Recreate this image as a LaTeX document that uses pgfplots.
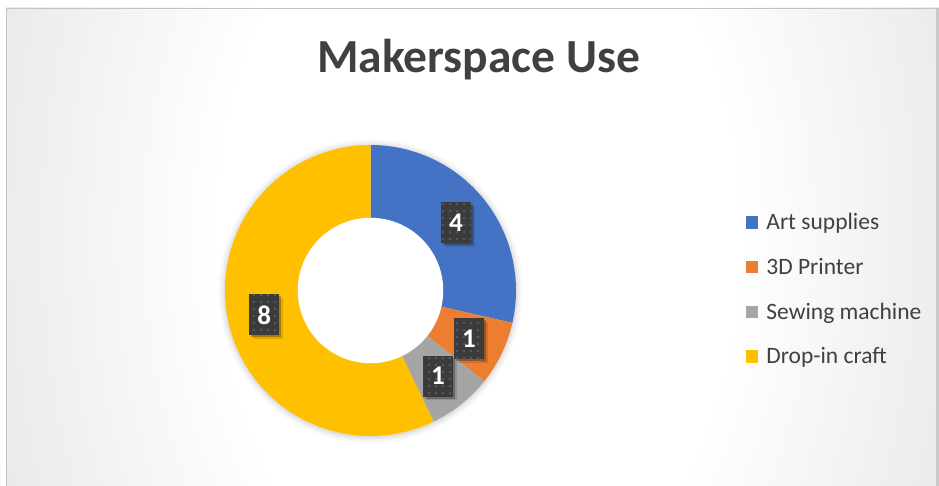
\documentclass[border=0pt]{standalone}
\usepackage{pgfplots}
\pgfplotsset{compat=1.18}
\usepackage{pgfplotstable}
\usepackage{fontspec}
\setmainfont{Carlito}
\usetikzlibrary{patterns,shadows}

\definecolor{cblue}{HTML}{4472C4}
\definecolor{corange}{HTML}{ED7D31}
\definecolor{cgray}{HTML}{A5A5A5}
\definecolor{cyellow}{HTML}{FFC000}
\definecolor{ctext}{HTML}{404040}
\definecolor{lblbg}{HTML}{3B3B3B}
\definecolor{lbldot}{HTML}{575757}

\pgfdeclareradialshading{bgshade}{\pgfpoint{0bp}{0bp}}{color(0bp)=(white); color(12bp)=(white); color(20bp)=(black!6); color(30bp)=(black!13); color(43bp)=(black!18); color(50bp)=(black!24)}
\pgfdeclareradialshading{holeshade}{\pgfpoint{0bp}{0bp}}{color(0bp)=(white); color(36bp)=(white); color(50bp)=(black!10)}
\pgfdeclarepatternformonly{exceldots}{\pgfpointorigin}{\pgfpoint{7pt}{7pt}}{\pgfpoint{7pt}{7pt}}{\pgfpathrectangle{\pgfpoint{1pt}{1pt}}{\pgfpoint{2.4pt}{2.4pt}}\pgfusepath{fill}}

\pgfplotstableread{
label value
Art 4
Printer 1
Sewing 1
Dropin 8
}\datatable

\begin{document}
\begin{tikzpicture}[
  lbl/.style={
    general shadow={shadow xshift=3.5pt, shadow yshift=-3.5pt, fill=black, opacity=0.12},
    general shadow={shadow xshift=2pt, shadow yshift=-2pt, fill=black, opacity=0.25},
    preaction={fill=lblbg}, pattern=exceldots, pattern color=lbldot,
    minimum width=30pt, minimum height=41pt, inner sep=0pt, text=white,
    font=\fontsize{27}{29}\selectfont\bfseries}
]
\pgfplotstablegetelem{0}{value}\of\datatable\let\vA\pgfplotsretval
\pgfplotstablegetelem{1}{value}\of\datatable\let\vB\pgfplotsretval
\pgfplotstablegetelem{2}{value}\of\datatable\let\vC\pgfplotsretval
\pgfplotstablegetelem{3}{value}\of\datatable\let\vD\pgfplotsretval
\pgfmathsetmacro{\tot}{\vA+\vB+\vC+\vD}
\pgfmathsetmacro{\aZ}{90}
\pgfmathsetmacro{\aA}{\aZ-360*\vA/\tot}
\pgfmathsetmacro{\aB}{\aA-360*\vB/\tot}
\pgfmathsetmacro{\aC}{\aB-360*\vC/\tot}
\pgfmathsetmacro{\aD}{\aC-360*\vD/\tot}

% background
\fill[white] (0pt,0pt) rectangle (939pt,486pt);
\begin{scope}
\clip (6pt,0pt) rectangle (939pt,478pt);
\shade[shading=bgshade] (-62pt,-550pt) rectangle (1018pt,1050pt);
\end{scope}
\draw[black!24, line width=1pt] (6.5pt,0pt) -- (6.5pt,477.5pt) -- (939pt,477.5pt);
\fill[black!21] (936pt,0pt) rectangle (939pt,477pt);

\node[anchor=base, font=\fontsize{47.5}{50}\selectfont\bfseries, text=ctext] at (478.5pt,413pt) {Makerspace Use};

\begin{axis}[
  at={(370.5pt,195.5pt)}, anchor=center,
  x=145.5pt, y=145.5pt, xmin=-1, xmax=1, ymin=-1, ymax=1,
  hide axis, clip=false, scale only axis,
  legend style={draw=none, fill=none, at={(1.790,0.7595)}, anchor=north west,
    inner sep=0pt, outer sep=0pt, row sep=29.8pt, column sep=8pt,
    font=\fontsize{23.5}{26}\selectfont, text=ctext,
    nodes={inner sep=0pt, text height=14.9pt, text depth=0pt}},
  legend cell align=left,
  legend image code/.code={\fill[#1] (0pt,-6.25pt) rectangle (12.5pt,6.25pt);},
]
% soft shadow around the ring
\addplot[forget plot, draw=none, fill=black, fill opacity=0.025, domain=0:360, samples=150] ({1.045*cos(x)},{1.045*sin(x)-0.005}) -- cycle;
\addplot[forget plot, draw=none, fill=black, fill opacity=0.03, domain=0:360, samples=150] ({1.03*cos(x)},{1.03*sin(x)-0.005}) -- cycle;
\addplot[forget plot, draw=none, fill=black, fill opacity=0.035, domain=0:360, samples=150] ({1.017*cos(x)},{1.017*sin(x)-0.005}) -- cycle;
\addplot[forget plot, draw=none, fill=black, fill opacity=0.04, domain=0:360, samples=150] ({1.007*cos(x)},{1.007*sin(x)-0.005}) -- cycle;

\addplot[fill=cblue, draw=none, domain=\aA:\aZ, samples=80] ({cos(x)},{sin(x)}) -- (axis cs:0,0) -- cycle;
\addlegendentry{Art supplies}
\addplot[fill=corange, draw=none, domain=\aB:\aA, samples=30] ({cos(x)},{sin(x)}) -- (axis cs:0,0) -- cycle;
\addlegendentry{3D Printer}
\addplot[fill=cgray, draw=none, domain=\aC:\aB, samples=30] ({cos(x)},{sin(x)}) -- (axis cs:0,0) -- cycle;
\addlegendentry{Sewing machine}
\addplot[fill=cyellow, draw=none, domain=\aD:\aC, samples=150] ({cos(x)},{sin(x)}) -- (axis cs:0,0) -- cycle;
\addlegendentry{Drop-in craft}
\addplot[forget plot, draw=none, shade, shading=holeshade, domain=0:360, samples=150] ({0.5*cos(x)},{0.5*sin(x)}) -- cycle;

\node[lbl] at (axis cs:0.588,0.467) {\vA};
\node[lbl] at (axis cs:0.677,-0.330) {\vB};
\node[lbl] at (axis cs:0.464,-0.588) {\vC};
\node[lbl] at (axis cs:-0.730,-0.168) {\vD};
\end{axis}
\pgfresetboundingbox
\path[use as bounding box] (0pt,0pt) rectangle (939pt,486pt);
\end{tikzpicture}
\end{document}
